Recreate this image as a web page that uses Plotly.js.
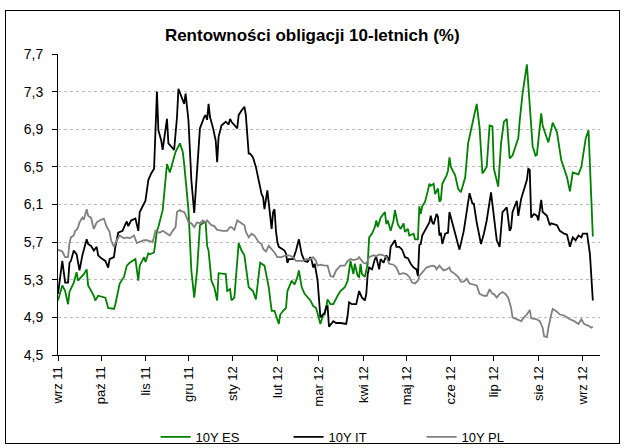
<!DOCTYPE html>
<html>
<head>
<meta charset="utf-8">
<script src="https://cdn.plot.ly/plotly-3.0.1.min.js"></script>
<style>
html,body{margin:0;padding:0;background:#fff;}
#wrap{position:relative;width:627px;height:448px;}
#chart{width:627px;height:448px;}
#frame{position:absolute;left:5px;top:10px;width:615px;height:434px;border:1px solid #000;pointer-events:none;box-sizing:border-box;}
</style>
</head>
<body>
<div id="wrap"><div id="chart"></div><div id="frame"></div></div>
<script>
const chartTitle = 'Rentowności obligacji 10-letnich (%)';
const seriesNames = ['10Y ES', '10Y IT', '10Y PL'];
const monthTicks = ['2011-09-01','2011-10-01','2011-11-01','2011-12-01','2012-01-01','2012-02-01','2012-03-01','2012-04-01','2012-05-01','2012-06-01','2012-07-01','2012-08-01','2012-09-01'];
const monthLabels = ['wrz 11','paź 11','lis 11','gru 11','sty 12','lut 12','mar 12','kwi 12','maj 12','cze 12','lip 12','sie 12','wrz 12'];
const yTicks = [4.5, 4.9, 5.3, 5.7, 6.1, 6.5, 6.9, 7.3, 7.7];

const esDates = ['2011-09-01','2011-09-04','2011-09-06','2011-09-08','2011-09-09','2011-09-12','2011-09-14','2011-09-15','2011-09-19','2011-09-21','2011-09-22','2011-09-26','2011-09-27','2011-09-29','2011-10-04','2011-10-06','2011-10-10','2011-10-11','2011-10-14','2011-10-17','2011-10-19','2011-10-21','2011-10-25','2011-10-27','2011-10-28','2011-10-31','2011-11-01','2011-11-03','2011-11-04','2011-11-07','2011-11-09','2011-11-10','2011-11-13','2011-11-14','2011-11-16','2011-11-18','2011-11-20','2011-11-22','2011-11-25','2011-11-27','2011-11-28','2011-12-01','2011-12-03','2011-12-05','2011-12-07','2011-12-09','2011-12-12','2011-12-13','2011-12-14','2011-12-15','2011-12-17','2011-12-19','2011-12-21','2011-12-22','2011-12-27','2011-12-28','2011-12-30','2011-12-31','2012-01-02','2012-01-05','2012-01-07','2012-01-09','2012-01-12','2012-01-15','2012-01-17','2012-01-18','2012-01-20','2012-01-23','2012-01-26','2012-01-28','2012-01-30','2012-02-02','2012-02-03','2012-02-05','2012-02-07','2012-02-08','2012-02-11','2012-02-13','2012-02-15','2012-02-16','2012-02-18','2012-02-20','2012-02-24','2012-02-26','2012-02-28','2012-03-02','2012-03-04','2012-03-05','2012-03-07','2012-03-09','2012-03-11','2012-03-14','2012-03-16','2012-03-19','2012-03-21','2012-03-23','2012-03-25','2012-03-26','2012-03-28','2012-03-29','2012-03-30','2012-03-31','2012-04-02','2012-04-04','2012-04-05','2012-04-07','2012-04-09','2012-04-10','2012-04-11','2012-04-13','2012-04-16','2012-04-17','2012-04-18','2012-04-20','2012-04-22','2012-04-23','2012-04-25','2012-04-27','2012-04-29','2012-04-30','2012-05-02','2012-05-03','2012-05-06','2012-05-07','2012-05-09','2012-05-10','2012-05-11','2012-05-12','2012-05-14','2012-05-16','2012-05-17','2012-05-18','2012-05-20','2012-05-21','2012-05-23','2012-05-24','2012-05-25','2012-05-26','2012-05-29','2012-05-30','2012-05-31','2012-06-01','2012-06-04','2012-06-06','2012-06-08','2012-06-11','2012-06-13','2012-06-15','2012-06-19','2012-06-21','2012-06-23','2012-06-26','2012-06-28','2012-06-30','2012-07-01','2012-07-04','2012-07-06','2012-07-08','2012-07-10','2012-07-12','2012-07-14','2012-07-17','2012-07-18','2012-07-19','2012-07-20','2012-07-21','2012-07-24','2012-07-28','2012-07-30','2012-07-31','2012-08-03','2012-08-04','2012-08-08','2012-08-10','2012-08-11','2012-08-14','2012-08-17','2012-08-21','2012-08-23','2012-08-25','2012-08-29','2012-08-31','2012-09-02','2012-09-03','2012-09-05','2012-09-06','2012-09-08'];
const esValues = [5.08,5.24,5.18,5.04,5.17,5.27,5.38,5.29,5.36,5.41,5.24,5.13,5.08,5.13,5.11,5.00,4.99,5.04,5.26,5.33,5.45,5.48,5.52,5.29,5.45,5.54,5.49,5.58,5.57,5.59,5.82,5.86,6.04,6.20,6.53,6.44,6.55,6.66,6.75,6.66,6.53,6.04,5.40,5.11,5.40,5.88,5.91,5.91,5.66,5.61,5.29,5.22,5.08,5.37,5.36,5.18,5.20,5.08,5.11,5.69,5.61,5.56,5.22,5.18,5.09,5.24,5.48,5.45,5.22,4.97,4.97,4.83,4.93,4.97,5.00,5.18,5.29,5.25,5.33,5.40,5.22,5.15,5.08,5.02,5.00,4.83,4.93,4.93,5.09,5.04,5.04,5.13,5.18,5.22,5.29,5.50,5.36,5.47,5.34,5.33,5.47,5.36,5.33,5.47,5.75,5.79,5.86,5.93,5.86,5.96,6.02,5.89,5.93,5.82,5.93,6.04,5.89,5.84,5.90,5.81,5.84,5.77,5.79,5.73,5.73,6.08,6.00,6.08,6.13,6.25,6.32,6.30,6.32,6.21,6.27,6.13,6.15,6.32,6.41,6.46,6.60,6.50,6.41,6.27,6.23,6.39,6.75,6.89,7.17,6.92,6.43,6.50,6.94,6.93,6.48,6.29,6.75,6.98,7.01,6.59,6.62,6.76,6.80,6.99,7.14,7.28,7.59,6.72,6.62,6.63,7.07,6.94,6.76,6.91,6.97,6.87,6.57,6.39,6.24,6.44,6.42,6.50,6.73,6.80,6.89,6.48,5.76];

const itDates = ['2011-09-01','2011-09-04','2011-09-06','2011-09-08','2011-09-09','2011-09-10','2011-09-12','2011-09-14','2011-09-16','2011-09-18','2011-09-21','2011-09-22','2011-09-24','2011-09-26','2011-09-28','2011-09-29','2011-10-01','2011-10-04','2011-10-06','2011-10-07','2011-10-10','2011-10-11','2011-10-13','2011-10-16','2011-10-18','2011-10-19','2011-10-20','2011-10-22','2011-10-25','2011-10-27','2011-10-28','2011-10-31','2011-11-01','2011-11-03','2011-11-05','2011-11-07','2011-11-09','2011-11-10','2011-11-12','2011-11-13','2011-11-16','2011-11-17','2011-11-19','2011-11-21','2011-11-23','2011-11-24','2011-11-26','2011-11-28','2011-11-29','2011-12-01','2011-12-03','2011-12-05','2011-12-07','2011-12-09','2011-12-12','2011-12-13','2011-12-14','2011-12-15','2011-12-16','2011-12-18','2011-12-20','2011-12-21','2011-12-22','2011-12-24','2011-12-27','2011-12-29','2011-12-30','2011-12-31','2012-01-04','2012-01-05','2012-01-07','2012-01-09','2012-01-10','2012-01-12','2012-01-13','2012-01-15','2012-01-17','2012-01-18','2012-01-20','2012-01-21','2012-01-22','2012-01-23','2012-01-25','2012-01-27','2012-01-28','2012-01-29','2012-01-30','2012-01-31','2012-02-01','2012-02-02','2012-02-04','2012-02-06','2012-02-07','2012-02-08','2012-02-09','2012-02-12','2012-02-14','2012-02-16','2012-02-18','2012-02-20','2012-02-22','2012-02-24','2012-02-25','2012-02-26','2012-02-27','2012-02-29','2012-03-02','2012-03-03','2012-03-05','2012-03-06','2012-03-07','2012-03-08','2012-03-11','2012-03-13','2012-03-16','2012-03-20','2012-03-21','2012-03-22','2012-03-24','2012-03-27','2012-03-28','2012-03-29','2012-03-31','2012-04-02','2012-04-03','2012-04-04','2012-04-05','2012-04-07','2012-04-09','2012-04-10','2012-04-12','2012-04-13','2012-04-15','2012-04-17','2012-04-19','2012-04-20','2012-04-23','2012-04-24','2012-04-26','2012-04-28','2012-04-30','2012-05-02','2012-05-04','2012-05-06','2012-05-08','2012-05-09','2012-05-10','2012-05-11','2012-05-12','2012-05-14','2012-05-17','2012-05-18','2012-05-19','2012-05-20','2012-05-22','2012-05-23','2012-05-24','2012-05-25','2012-05-26','2012-05-28','2012-05-30','2012-05-31','2012-06-01','2012-06-04','2012-06-07','2012-06-10','2012-06-12','2012-06-14','2012-06-16','2012-06-17','2012-06-19','2012-06-22','2012-06-24','2012-06-26','2012-06-29','2012-07-01','2012-07-03','2012-07-05','2012-07-07','2012-07-10','2012-07-12','2012-07-13','2012-07-14','2012-07-17','2012-07-18','2012-07-20','2012-07-22','2012-07-24','2012-07-25','2012-07-26','2012-07-27','2012-07-29','2012-07-31','2012-08-01','2012-08-03','2012-08-04','2012-08-07','2012-08-09','2012-08-10','2012-08-12','2012-08-14','2012-08-16','2012-08-19','2012-08-21','2012-08-23','2012-08-25','2012-08-27','2012-08-29','2012-08-31','2012-09-01','2012-09-04','2012-09-06','2012-09-08'];
const itValues = [5.15,5.50,5.27,5.27,5.48,5.50,5.61,5.57,5.40,5.56,5.73,5.68,5.66,5.61,5.65,5.56,5.53,5.50,5.43,5.52,5.54,5.65,5.80,5.82,5.89,5.92,5.87,5.93,5.95,5.82,6.02,6.12,6.14,6.36,6.43,6.48,7.30,6.89,6.78,6.68,7.01,6.75,6.72,6.68,7.03,7.33,7.25,7.17,7.28,6.99,6.36,6.01,6.46,6.91,7.03,7.05,7.00,7.17,7.03,6.92,6.78,6.55,6.82,6.94,6.98,6.95,7.01,6.98,6.91,7.05,7.10,7.14,7.05,6.64,6.64,6.60,6.50,6.43,6.28,6.21,6.18,6.05,6.25,5.93,5.84,6.02,6.05,5.82,5.70,5.65,5.63,5.61,5.58,5.48,5.52,5.52,5.61,5.73,5.57,5.50,5.49,5.54,5.50,5.43,5.47,5.30,4.90,4.92,4.95,5.01,5.02,4.80,4.86,4.84,4.84,4.83,4.92,5.06,5.04,5.04,5.10,5.18,5.11,5.08,5.15,5.36,5.43,5.41,5.52,5.54,5.41,5.52,5.48,5.56,5.50,5.65,5.72,5.65,5.65,5.62,5.54,5.53,5.47,5.43,5.41,5.34,5.67,5.68,5.77,5.82,5.91,5.98,5.91,5.89,6.00,5.97,5.77,5.80,5.68,5.79,5.80,6.02,5.96,5.79,5.62,5.82,6.00,6.22,6.11,6.11,5.91,5.68,5.79,5.93,6.23,5.98,5.72,5.65,6.02,6.07,5.82,5.85,6.02,6.14,5.98,6.16,6.25,6.36,6.48,6.47,5.96,6.00,5.98,5.93,6.15,6.02,5.98,5.88,5.90,5.89,5.88,5.82,5.79,5.78,5.65,5.75,5.72,5.77,5.75,5.79,5.79,5.57,5.08];

const plDates = ['2011-09-01','2011-09-04','2011-09-06','2011-09-08','2011-09-09','2011-09-10','2011-09-12','2011-09-13','2011-09-14','2011-09-15','2011-09-16','2011-09-18','2011-09-19','2011-09-21','2011-09-22','2011-09-23','2011-09-24','2011-09-26','2011-09-28','2011-09-30','2011-10-03','2011-10-05','2011-10-07','2011-10-08','2011-10-10','2011-10-12','2011-10-14','2011-10-17','2011-10-19','2011-10-21','2011-10-24','2011-10-26','2011-10-28','2011-10-31','2011-11-02','2011-11-04','2011-11-06','2011-11-08','2011-11-11','2011-11-13','2011-11-15','2011-11-18','2011-11-20','2011-11-22','2011-11-23','2011-11-25','2011-11-26','2011-11-28','2011-11-29','2011-12-01','2011-12-03','2011-12-05','2011-12-07','2011-12-09','2011-12-11','2011-12-13','2011-12-14','2011-12-17','2011-12-19','2011-12-21','2011-12-25','2011-12-28','2011-12-30','2011-12-31','2012-01-02','2012-01-04','2012-01-06','2012-01-09','2012-01-10','2012-01-12','2012-01-14','2012-01-16','2012-01-19','2012-01-21','2012-01-22','2012-01-24','2012-01-26','2012-01-28','2012-01-30','2012-02-01','2012-02-04','2012-02-07','2012-02-09','2012-02-12','2012-02-14','2012-02-17','2012-02-19','2012-02-21','2012-02-24','2012-02-26','2012-02-28','2012-02-29','2012-03-02','2012-03-05','2012-03-07','2012-03-09','2012-03-11','2012-03-13','2012-03-15','2012-03-16','2012-03-19','2012-03-21','2012-03-23','2012-03-25','2012-03-28','2012-03-29','2012-04-01','2012-04-03','2012-04-05','2012-04-08','2012-04-10','2012-04-12','2012-04-15','2012-04-17','2012-04-19','2012-04-22','2012-04-24','2012-04-26','2012-04-29','2012-05-01','2012-05-03','2012-05-05','2012-05-07','2012-05-09','2012-05-10','2012-05-13','2012-05-15','2012-05-17','2012-05-19','2012-05-21','2012-05-22','2012-05-24','2012-05-27','2012-05-29','2012-05-31','2012-06-01','2012-06-04','2012-06-06','2012-06-08','2012-06-10','2012-06-12','2012-06-14','2012-06-17','2012-06-19','2012-06-21','2012-06-24','2012-06-26','2012-06-28','2012-06-30','2012-07-01','2012-07-03','2012-07-05','2012-07-07','2012-07-09','2012-07-11','2012-07-13','2012-07-14','2012-07-17','2012-07-19','2012-07-20','2012-07-22','2012-07-24','2012-07-26','2012-07-27','2012-07-31','2012-08-02','2012-08-04','2012-08-05','2012-08-07','2012-08-08','2012-08-10','2012-08-11','2012-08-14','2012-08-16','2012-08-19','2012-08-21','2012-08-23','2012-08-26','2012-08-29','2012-08-31','2012-09-02','2012-09-05','2012-09-07','2012-09-08'];
const plValues = [5.62,5.60,5.54,5.54,5.69,5.75,5.77,5.82,5.83,5.86,5.91,5.96,5.94,6.05,5.98,5.97,5.96,5.84,5.91,5.93,5.95,5.86,5.81,5.72,5.65,5.72,5.77,5.74,5.75,5.74,5.77,5.69,5.70,5.72,5.72,5.71,5.70,5.82,5.80,5.82,5.80,5.77,5.82,5.86,6.02,6.04,6.03,6.02,5.99,5.91,5.90,5.86,5.91,5.90,5.93,5.91,5.93,5.88,5.87,5.83,5.82,5.82,5.86,5.86,5.83,5.93,5.91,5.88,5.81,5.75,5.79,5.77,5.70,5.68,5.63,5.60,5.66,5.63,5.59,5.54,5.54,5.56,5.56,5.54,5.50,5.50,5.50,5.52,5.52,5.54,5.50,5.45,5.46,5.45,5.45,5.34,5.33,5.40,5.43,5.45,5.45,5.50,5.52,5.51,5.52,5.54,5.48,5.47,5.54,5.56,5.55,5.57,5.56,5.54,5.47,5.46,5.43,5.36,5.37,5.36,5.33,5.27,5.26,5.29,5.34,5.40,5.43,5.44,5.45,5.44,5.41,5.45,5.40,5.41,5.43,5.39,5.36,5.33,5.28,5.28,5.31,5.26,5.25,5.24,5.15,5.13,5.13,5.20,5.15,5.15,5.11,5.15,5.17,5.15,5.11,5.00,4.90,4.88,4.87,4.86,4.90,4.93,4.98,4.89,4.88,4.86,4.79,4.70,4.69,4.79,4.93,4.99,4.96,4.93,4.92,4.90,4.88,4.86,4.83,4.88,4.83,4.81,4.79,4.80];

const colors = ['#008000', '#000000', '#808080'];
const FONT = 'Liberation Sans, Arial, sans-serif';

const traces = [
  {x: esDates, y: esValues, name: seriesNames[0], type: 'scatter', mode: 'lines', line: {color: colors[0], width: 1.8}},
  {x: itDates, y: itValues, name: seriesNames[1], type: 'scatter', mode: 'lines', line: {color: colors[1], width: 1.8}},
  {x: plDates, y: plValues, name: seriesNames[2], type: 'scatter', mode: 'lines', line: {color: colors[2], width: 1.8}}
];

const layout = {
  width: 627, height: 448,
  margin: {l: 58, r: 27, t: 54, b: 93, pad: 0, autoexpand: false},
  paper_bgcolor: '#ffffff', plot_bgcolor: '#ffffff',
  separators: ', ',
  font: {family: FONT, size: 13, color: '#000'},
  showlegend: true,
  hovermode: false,
  title: {text: chartTitle, font: {family: FONT, size: 17, color: '#000', weight: 'bold'}, x: 0.498, xref: 'container', xanchor: 'center', y: 1 - 35/448, yref: 'container', yanchor: 'middle'},
  xaxis: {
    type: 'date', range: ['2011-09-01', '2012-09-13'], automargin: false,
    tickmode: 'array', tickvals: monthTicks, ticktext: monthLabels,
    tickangle: -90, ticks: 'outside', ticklen: 5, tickcolor: '#000', tickwidth: 1,
    showline: true, linecolor: '#000', linewidth: 1, showgrid: false, zeroline: false,
    tickfont: {family: FONT, size: 13, color: '#000'}, fixedrange: true
  },
  yaxis: {
    range: [4.5, 7.7], tickmode: 'array', tickvals: yTicks, tickformat: '.1f', automargin: false,
    ticks: 'outside', ticklen: 5, tickcolor: '#000', tickwidth: 1,
    showline: true, linecolor: '#000', linewidth: 1,
    showgrid: true, gridcolor: '#bdbdbd', griddash: 'dot', gridwidth: 1, zeroline: false,
    tickfont: {family: FONT, size: 14, color: '#000'}, ticklabelstandoff: 6, fixedrange: true
  },
  legend: {orientation: 'h', x: 0.18, xanchor: 'left', y: (355-437)/301, yanchor: 'middle', entrywidth: 88, entrywidthmode: 'pixels', font: {family: FONT, size: 13, color: '#000'}, bgcolor: 'rgba(0,0,0,0)'}
};

Plotly.newPlot('chart', traces, layout, {displayModeBar: false, staticPlot: true});
</script>
</body>
</html>
